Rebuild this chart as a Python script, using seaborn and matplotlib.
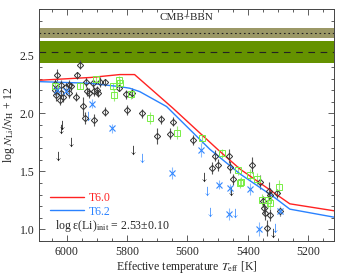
import matplotlib
matplotlib.use("Agg")
import matplotlib.pyplot as plt
from matplotlib.ticker import MultipleLocator, FormatStrFormatter
import seaborn as sns

# --- model tracks ---
t60_teff = [6090, 5920, 5824, 5775, 5648, 5498, 5426, 5316, 5261, 5115]
t60_li = [2.286, 2.31, 2.335, 2.335, 2.045, 1.685, 1.52, 1.32, 1.22, 1.16]
t62_teff = [6090, 5924, 5824, 5791, 5758, 5669, 5526, 5426, 5316, 5261, 5115]
t62_li = [2.274, 2.26, 2.231, 2.217, 2.188, 2.059, 1.691, 1.478, 1.283, 1.174, 1.105]

# --- observations ---
blk_teff = [5955, 6032, 5966, 5935, 5913, 5891, 5874, 6040, 6018, 5992, 5984, 6001,
            6040, 6034, 6018, 6012, 6023, 5992, 5968, 5931, 5926, 5909, 5898, 5896,
            5827, 5804, 5782, 5946, 5940, 5909, 5872, 5800, 5752, 5686, 5648, 5701,
            5659, 5582, 5510, 5499, 5518, 5463, 5459, 5450, 5386, 5360, 5329, 5327,
            5351, 5346, 5343, 5327, 5303, 5294, 5338]
blk_li = [2.42, 2.33, 2.33, 2.27, 2.26, 2.27, 2.27, 2.25, 2.245, 2.245, 2.235, 2.23,
          2.20, 2.16, 2.175, 2.145, 2.115, 2.175, 2.145, 2.19, 2.175, 2.19, 2.20, 2.175,
          2.22, 2.165, 2.175, 2.06, 1.96, 1.945, 2.015, 2.03, 2.00, 1.95, 1.93, 1.805,
          1.825, 1.77, 1.635, 1.555, 1.53, 1.635, 1.535, 1.43, 1.555, 1.41, 1.33, 1.30,
          1.24, 1.185, 1.14, 1.125, 1.31, 1.155, 1.01]
blk_err = [0.04, 0.05, 0.03, 0.04, 0.04, 0.04, 0.03, 0.05, 0.04, 0.04, 0.04, 0.04,
           0.04, 0.05, 0.04, 0.05, 0.04, 0.04, 0.04, 0.04, 0.04, 0.04, 0.04, 0.03,
           0.03, 0.04, 0.04, 0.08, 0.05, 0.05, 0.04, 0.04, 0.04, 0.04, 0.04, 0.07,
           0.05, 0.04, 0.05, 0.05, 0.05, 0.06, 0.05, 0.05, 0.07, 0.06, 0.08, 0.06,
           0.05, 0.05, 0.06, 0.05, 0.04, 0.04, 0.07]
blk_lim_teff = [6014, 6020, 5985, 6029, 5780, 5546, 5455, 5317, 5328]
blk_lim_li = [1.90, 1.865, 1.75, 1.63, 1.685, 1.455, 1.33, 0.97, 1.28]

grn_teff = [6038, 5955, 5902, 5828, 5824, 5845, 5843, 5787, 5725, 5636, 5553, 5485,
            5433, 5427, 5393, 5369, 5421, 5296, 5354, 5334, 5327]
grn_li = [2.24, 2.24, 2.295, 2.285, 2.265, 2.235, 2.16, 2.165, 1.96, 1.835, 1.785, 1.655,
          1.51, 1.40, 1.47, 1.435, 1.41, 1.365, 1.255, 1.25, 1.225]
grn_err = [0.03, 0.03, 0.03, 0.04, 0.03, 0.03, 0.05, 0.04, 0.05, 0.06, 0.04, 0.04,
           0.04, 0.04, 0.05, 0.05, 0.04, 0.06, 0.05, 0.07, 0.05]

blu_teff = [6032, 6001, 5917, 5851, 5555, 5651, 5494, 5459, 5393, 5461, 5363, 5293]
blu_li = [2.20, 2.195, 2.085, 1.87, 1.685, 1.485, 1.385, 1.355, 1.35, 1.13, 1.00, 1.16]
blu_err = [0.04, 0.04, 0.04, 0.04, 0.06, 0.05, 0.04, 0.04, 0.05, 0.05, 0.06, 0.04]
blu_lim_teff = [5929, 5749, 5535, 5526, 5441, 5311]
blu_lim_li = [1.98, 1.615, 1.33, 1.15, 1.14, 1.01]

# --- reference bands ---
cmb_li, cmb_lo, cmb_hi = 2.69, 2.653, 2.734
init_li, init_lo, init_hi = 2.53, 2.433, 2.625

sns.set_style("ticks")
plt.rcParams["font.family"] = ["Liberation Serif", "DejaVu Serif"]
plt.rcParams["mathtext.fontset"] = "stix"
plt.rcParams["font.size"] = 8

fig, ax = plt.subplots(figsize=(3.46, 2.75), dpi=100, facecolor="white")
ax.set_facecolor("white")
fig.subplots_adjust(left=0.114, right=0.965, bottom=0.124, top=0.967)

ax.axhspan(cmb_lo, cmb_hi, color="#9b9866", lw=0)
ax.axhline(cmb_li, color="#222222", ls=(0, (1.5, 2.5)), lw=0.8)
ax.axhspan(init_lo, init_hi, color="#659200", lw=0)
ax.axhline(init_li, color="#222222", ls=(0, (6, 5)), lw=0.8)

ax.errorbar(blk_teff, blk_li, yerr=blk_err, fmt="D", ms=3.2, mfc="none",
            mec="#333333", mew=0.7, ecolor="#555555", elinewidth=0.8, capsize=0)
ax.errorbar(grn_teff, grn_li, yerr=grn_err, fmt="s", ms=4.5, mfc="none",
            mec="#77ee44", mew=0.7, ecolor="#99ee77", elinewidth=0.8, capsize=0)
ax.errorbar(blu_teff, blu_li, yerr=blu_err, fmt="x", ms=4, mec="#3388ff",
            mew=0.8, ecolor="#88bbff", elinewidth=0.8, capsize=0)
sns.scatterplot(x=blk_lim_teff, y=blk_lim_li, marker=r"$\downarrow$", s=45,
                color="#111111", linewidth=0, ax=ax)
sns.scatterplot(x=blu_lim_teff, y=blu_lim_li, marker=r"$\downarrow$", s=45,
                color="#2f86ff", linewidth=0, ax=ax)

sns.lineplot(x=t60_teff, y=t60_li, sort=False, color="#ff2222", lw=1.0,
             label="T6.0", ax=ax)
sns.lineplot(x=t62_teff, y=t62_li, sort=False, color="#2a82ff", lw=1.0,
             label="T6.2", ax=ax)

leg = ax.legend(loc="lower left", bbox_to_anchor=(0.0, 0.055), frameon=False,
                handlelength=2.9, handletextpad=0.4, labelspacing=0.15, fontsize=8.5)
for txt, c in zip(leg.get_texts(), ["#ff2222", "#2a82ff"]):
    txt.set_color(c)

ax.text(0.053, 0.065, r"log ε(Li)$_{\rm init}$ = 2.53±0.10", transform=ax.transAxes,
        ha="left", va="center", fontsize=8.5)
ax.text(0.5, 0.962, "CMB+BBN", transform=ax.transAxes, ha="center", va="center",
        fontsize=8)

ax.set_xlim(6090, 5115)
ax.set_ylim(0.9, 2.9)
ax.xaxis.set_major_locator(MultipleLocator(200))
ax.xaxis.set_minor_locator(MultipleLocator(50))
ax.yaxis.set_major_locator(MultipleLocator(0.5))
ax.yaxis.set_minor_locator(MultipleLocator(0.1))
ax.yaxis.set_major_formatter(FormatStrFormatter("%.1f"))
ax.tick_params(which="both", direction="in", top=True, right=True, labelsize=8.5,
               width=0.6, color="#444444")
ax.tick_params(which="major", length=4)
ax.tick_params(which="minor", length=2)
for s in ax.spines.values():
    s.set_linewidth(0.7)
    s.set_color("#444444")

ax.set_xlabel(r"Effective temperature $T_{\rm eff}$ [K]", fontsize=8.5, labelpad=1)
ax.set_ylabel(r"log $N_{\rm Li}/N_{\rm H}$ + 12", fontsize=8.5, labelpad=2)

fig.savefig("out.png", dpi=100, facecolor="white")
plt.close(fig)
